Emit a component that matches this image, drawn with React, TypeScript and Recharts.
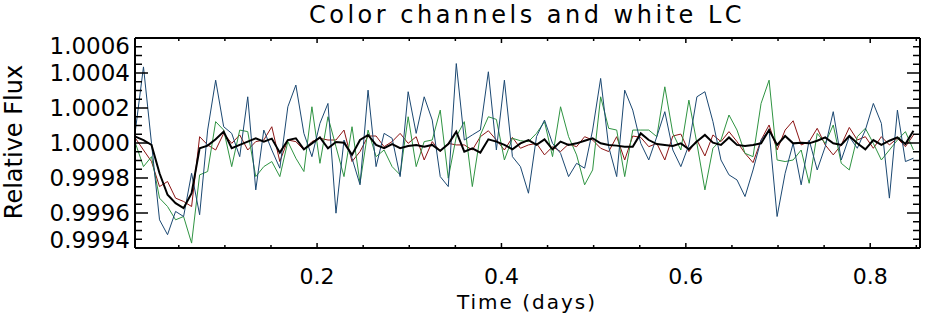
import { LineChart, Line, XAxis, YAxis } from "recharts";

// time of each exposure (days)
const timeDays = [
  0.0030, 0.0117, 0.0204, 0.0291, 0.0378, 0.0465, 0.0552, 0.0639, 0.0726, 0.0813,
  0.0900, 0.0987, 0.1074, 0.1161, 0.1248, 0.1335, 0.1422, 0.1509, 0.1596, 0.1683,
  0.1770, 0.1857, 0.1944, 0.2031, 0.2118, 0.2205, 0.2292, 0.2379, 0.2466, 0.2553,
  0.2640, 0.2727, 0.2814, 0.2901, 0.2988, 0.3075, 0.3162, 0.3249, 0.3336, 0.3423,
  0.3510, 0.3597, 0.3684, 0.3771, 0.3858, 0.3945, 0.4032, 0.4119, 0.4206, 0.4293,
  0.4380, 0.4467, 0.4554, 0.4641, 0.4728, 0.4815, 0.4902, 0.4989, 0.5076, 0.5163,
  0.5250, 0.5337, 0.5424, 0.5511, 0.5598, 0.5685, 0.5772, 0.5859, 0.5946, 0.6033,
  0.6120, 0.6207, 0.6294, 0.6381, 0.6468, 0.6555, 0.6642, 0.6729, 0.6816, 0.6903,
  0.6990, 0.7077, 0.7164, 0.7251, 0.7338, 0.7425, 0.7512, 0.7599, 0.7686, 0.7773,
  0.7860, 0.7947, 0.8034, 0.8121, 0.8208, 0.8295, 0.8382, 0.8469,
];

// flux deviation from 1.0 in ppm
const redPpm = [
  27, -40, -106, -249, -220, -315, -334, -363, 36, -11,
  -40, 55, -2, 46, -40, 8, 17, 93, -106, 17,
  8, -40, 8, 27, 17, 17, 74, -106, -49, 40,
  40, -21, 8, 55, -2, 36, -97, 8, -49, -2,
  -11, -11, -40, 36, 70, 17, -40, 32, -30, -11,
  -2, -68, -21, -49, -6, -21, 36, 17, -30, -49,
  36, -97, 40, 32, -21, -2, -97, 40, 51, -49,
  17, -74, 46, 8, 65, 8, -59, -112, 17, 103,
  -40, 74, 127, -11, 8, 84, -11, -68, -11, 89,
  17, 36, -30, 36, -11, 27, -21, 46,
];

const greenPpm = [
  -2, -135, -78, -315, -363, -439, -420, -572, -182, -163,
  122, 74, -135, 74, 65, -192, -135, -106, -192, 8,
  -87, -163, 207, -116, 150, -21, -192, 93, -230, 74,
  -78, -40, -135, -182, 150, -135, 8, 17, 188, -201,
  36, 122, -249, 46, 150, 135, -97, 27, 13, 8,
  55, 122, -78, 207, 36, -68, -239, -154, 264, 84,
  74, -192, 74, 74, 74, 36, 321, 55, -40, 245,
  -2, -268, -30, 17, 160, 74, -59, -78, 226, 359,
  -97, -106, -97, -40, -230, 55, -2, 103, -116, -154,
  36, 84, -2, -97, -40, 17, 65, -40,
];

const bluePpm = [
  74, 435, -2, -439, -524, -391, -420, -173, -410, 74,
  359, 93, 55, -78, 264, -268, 74, -40, -144, 207,
  331, 55, -78, 112, 226, -401, 17, -87, -239, 302,
  -135, 55, 27, -192, 293, 55, 264, 131, -192, -249,
  454, 17, 46, 74, 407, -40, 359, -78, -135, -287,
  36, 131, -2, -59, -192, -116, -144, 74, 369, -21,
  -192, 302, 188, -2, -97, 36, 179, -40, -135, -11,
  264, 293, 122, -97, -182, -211, -306, -154, 17, 74,
  -420, -173, -2, -239, 17, -154, -21, 179, -97, 36,
  -30, 74, 226, 112, -315, 188, -106, -87,
];

const whitePpm = [
  36, 17, -11, -173, -296, -344, -372, -287, -30, -15,
  21, 65, -30, -11, 8, 27, 8, 25, -55, 17,
  27, -36, -2, 32, -30, 6, 2, -68, 17, 46,
  -11, -30, -6, -30, -17, -11, -21, -11, -44, -6,
  65, -49, -30, -55, 21, 8, -11, -36, -2, 17,
  -11, 21, -36, 8, -11, -2, 13, 27, -2, -11,
  -15, -21, -21, 55, 17, -6, -11, -17, -2, -36,
  8, 46, 2, -11, 32, -11, -17, -11, -2, 74,
  -11, 40, -2, 2, -2, 13, 32, -2, -11, 40,
  -2, -36, 17, -11, 13, 32, -6, 70,
];

const xTicks = [0.05, 0.1, 0.15, 0.2, 0.25, 0.3, 0.35, 0.4, 0.45, 0.5, 0.55, 0.6, 0.65, 0.7, 0.75, 0.8, 0.85];
const xLabelTicks = [0.2, 0.4, 0.6, 0.8];
const yTicks = [
  -600, -550, -500, -450, -400, -350, -300, -250, -200, -150, -100, -50, 0,
  50, 100, 150, 200, 250, 300, 350, 400, 450, 500, 550, 600,
];
const yLabelTicks = [-600, -400, -200, 0, 200, 400, 600];

const data = timeDays.map((t, i) => ({
  t,
  red: redPpm[i],
  green: greenPpm[i],
  blue: bluePpm[i],
  white: whitePpm[i],
}));

const FONT = "DejaVu Sans";
const has = (list: number[], v: number) => list.some((m) => Math.abs(m - v) < 1e-9);
const fluxLabel = (ppm: number) => (1 + ppm / 1e6).toFixed(4);

const BottomTick = (props: any) => {
  const { x, y, payload } = props;
  const major = has(xLabelTicks, payload.value);
  return (
    <g>
      <line x1={x} x2={x} y1={y} y2={y - (major ? 5 : 3)} stroke="#000" strokeWidth={1.5} />
      {major && (
        <text x={x} y={y + 36} textAnchor="middle" fontSize={22} fontFamily={FONT} fill="#000">
          {payload.value.toFixed(1)}
        </text>
      )}
    </g>
  );
};

const TopTick = (props: any) => {
  const { x, y, payload } = props;
  const major = has(xLabelTicks, payload.value);
  return <line x1={x} x2={x} y1={y} y2={y + (major ? 5 : 3)} stroke="#000" strokeWidth={1.5} />;
};

const LeftTick = (props: any) => {
  const { x, y, payload } = props;
  const v = payload.value;
  const major = has(yLabelTicks, v);
  // the end labels sit a bit inside the frame
  const shift = v === 600 ? 8 : v === -600 ? -8 : 0;
  return (
    <g>
      <line x1={x} x2={x + (major ? 13 : 7)} y1={y} y2={y} stroke="#000" strokeWidth={1.5} />
      {major && (
        <text x={x - 5} y={y + 8 + shift} textAnchor="end" fontSize={23} fontFamily={FONT} fill="#000">
          {fluxLabel(v)}
        </text>
      )}
    </g>
  );
};

const RightTick = (props: any) => {
  const { x, y, payload } = props;
  const major = has(yLabelTicks, payload.value);
  return <line x1={x} x2={x - (major ? 13 : 7)} y1={y} y2={y} stroke="#000" strokeWidth={1.5} />;
};

const axisLine = { stroke: "#000", strokeWidth: 2 };

export default function App() {
  return (
    <div style={{ position: "absolute", left: 0, top: 0, width: 927, height: 323, background: "#fff" }}>
      <LineChart width={927} height={323} data={data} margin={{ top: 37, right: 6, bottom: 74, left: 134 }}>
        <XAxis
          dataKey="t"
          type="number"
          domain={[0.0025, 0.854]}
          allowDataOverflow
          ticks={xTicks}
          interval={0}
          height={1}
          tickSize={0}
          tickMargin={0}
          axisLine={axisLine}
          tickLine={false}
          tick={<BottomTick />}
        />
        <XAxis
          xAxisId="top"
          orientation="top"
          dataKey="t"
          type="number"
          domain={[0.0025, 0.854]}
          allowDataOverflow
          ticks={xTicks}
          interval={0}
          height={1}
          tickSize={0}
          tickMargin={0}
          axisLine={axisLine}
          tickLine={false}
          tick={<TopTick />}
        />
        <YAxis
          type="number"
          domain={[-600, 600]}
          allowDataOverflow
          ticks={yTicks}
          interval={0}
          width={1}
          tickSize={0}
          tickMargin={0}
          axisLine={axisLine}
          tickLine={false}
          tick={<LeftTick />}
        />
        <YAxis
          yAxisId="right"
          orientation="right"
          type="number"
          domain={[-600, 600]}
          allowDataOverflow
          ticks={yTicks}
          interval={0}
          width={1}
          tickSize={0}
          tickMargin={0}
          axisLine={axisLine}
          tickLine={false}
          tick={<RightTick />}
        />
        <Line dataKey="red" stroke="#8c1414" strokeWidth={1} dot={false} isAnimationActive={false} />
        <Line dataKey="green" stroke="#2f9442" strokeWidth={1} dot={false} isAnimationActive={false} />
        <Line dataKey="blue" stroke="#1b4872" strokeWidth={1} dot={false} isAnimationActive={false} />
        <Line dataKey="white" stroke="#000" strokeWidth={2} dot={false} isAnimationActive={false} />
      </LineChart>
      <svg width={927} height={323} style={{ position: "absolute", left: 0, top: 0, pointerEvents: "none" }}>
        <text x={527} y={23} textAnchor="middle" fontSize={24} letterSpacing={3.5} fontFamily={FONT} fill="#000">
          Color channels and white LC
        </text>
        <text x={527} y={309} textAnchor="middle" fontSize={20} letterSpacing={2} fontFamily={FONT} fill="#000">
          Time (days)
        </text>
        <text x={22} y={142} transform="rotate(-90 22 142)" textAnchor="middle" fontSize={24} fontFamily={FONT} fill="#000">
          Relative Flux
        </text>
      </svg>
    </div>
  );
}
